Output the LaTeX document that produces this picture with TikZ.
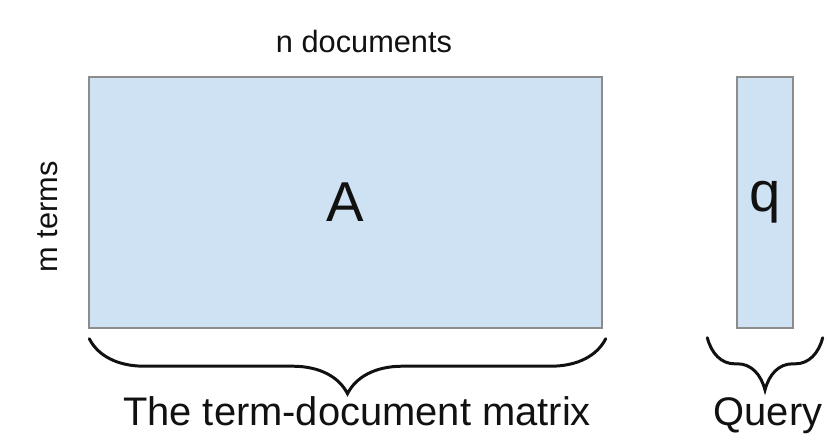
\documentclass[tikz,border=0pt]{standalone}
\usepackage{fontspec}
\setmainfont{Liberation Sans}
\usepackage{tikz}
\usetikzlibrary{positioning,calc,decorations.pathreplacing}
\definecolor{cellblue}{HTML}{CFE2F3}
\definecolor{edgegray}{HTML}{8C8C8C}
\definecolor{ink}{HTML}{111111}
\tikzset{
  matbox/.style={draw=edgegray,fill=cellblue,line width=0.8pt,
                 inner sep=0pt,text=ink,font=\fontsize{32pt}{36pt}\selectfont},
  dimlabel/.style={font=\fontsize{17.5pt}{20pt}\selectfont,text=ink,
                   inner sep=0pt},
  caption/.style={font=\fontsize{22.7pt}{26pt}\selectfont,text=ink,
                  inner sep=0pt,anchor=base},
  matbrace/.style={decorate,decoration={brace,amplitude=1.1cm},
                   line width=1.7pt,line cap=round,draw=ink},
  qbrace/.style={decorate,
                 decoration={brace,amplitude=0.55cm,transform={yscale=1.9}},
                 line width=1.7pt,line cap=round,draw=ink}
}

\begin{document}
\begin{tikzpicture}[x=1cm,y=1cm]
    \path[use as bounding box] (0,0) rectangle (16.54,8.8);

    % the two matrices
    \node[matbox,minimum width=10.26cm,minimum height=5.02cm] (A)
      at (6.91,4.75) {A};
    \node[matbox,minimum width=1.12cm,minimum height=5.02cm] (q)
      at (15.30,4.75) {q};

    % dimension labels
    \node[dimlabel,anchor=base] (ndocs) at (7.28,7.74) {n documents};
    \node[dimlabel,rotate=90] (mterms) at (0.96,4.46) {m terms};

    % braces under the matrices
    \draw[matbrace] ($(A.south east)+(0.06,-0.2)$)
      -- ($(A.south west)+(0.02,-0.2)$);
    \draw[qbrace] ($(q.south east)+(0.58,-0.18)$)
      -- ($(q.south west)+(-0.58,-0.18)$);

    \node[caption] (Acap) at (7.14,0.3) {The term-document matrix};
    \node[caption] (qcap) at (15.36,0.3) {Query};
  \end{tikzpicture}
\end{document}
